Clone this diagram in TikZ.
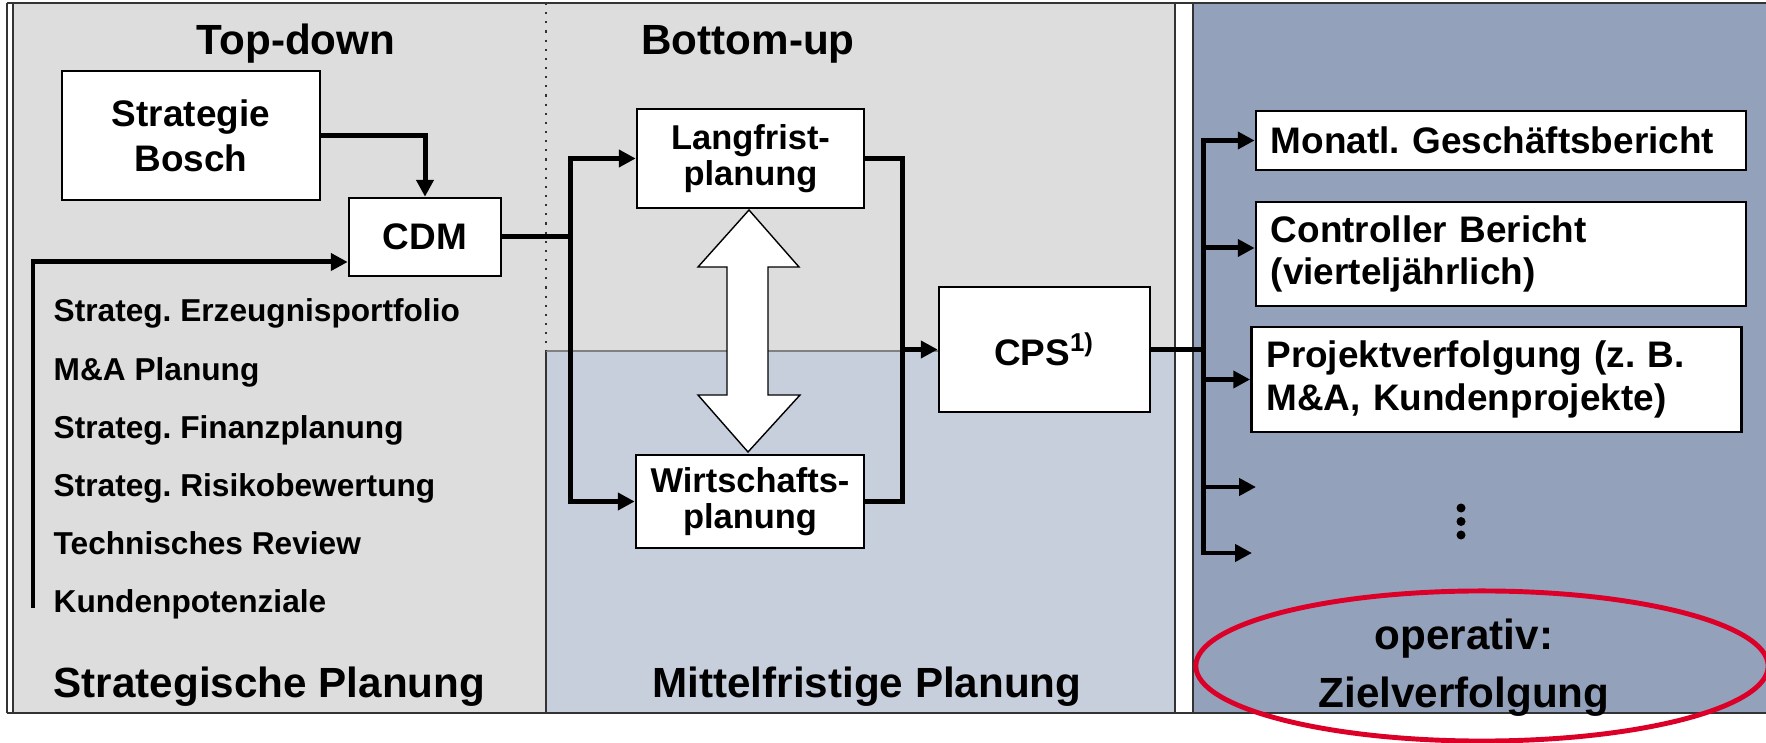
\documentclass[tikz,border=0pt]{standalone}
\usepackage{fontspec}
\setmainfont{Liberation Sans}
\frenchspacing
\usetikzlibrary{positioning}
\usetikzlibrary{calc}
\usetikzlibrary{arrows.meta}
\definecolor{grau}{RGB}{221,221,221}
\definecolor{hellblau}{RGB}{200,207,220}
\definecolor{graublau}{RGB}{147,161,187}
\definecolor{rot}{RGB}{220,0,40}
\tikzset{
  planung/.style={
    x=0.01cm, y=-0.01cm,
    box/.style={rectangle, draw=black, line width=0.7pt, fill=white, align=center,
      inner sep=0pt, font={\bfseries\fontsize{10.5}{12.8}\selectfont}},
    small box/.style={box, font={\bfseries\fontsize{9.8}{10.4}\selectfont}},
    report box/.style={box, align=left, text width=4.6cm, inner xsep=0.15cm,
      font={\bfseries\fontsize{10.5}{12}\selectfont}},
    heading/.style={inner sep=0pt, anchor=base, font={\bfseries\fontsize{12}{14.5}\selectfont}},
    list item/.style={inner sep=0pt, anchor=base west, font={\bfseries\fontsize{9}{11}\selectfont}},
    flow/.style={line width=1.42pt},
    conn/.style={flow, -{Triangle[length=4.8pt,width=4.8pt]}},
    rahmen/.style={line width=0.6pt, black!80},
    dbl arrow/.style={draw=black, fill=white, line width=0.4pt},
    goal ring/.style={draw=rot, line width=1.4pt}
  }
}
\newcommand{\punkte}[2]{
    \foreach \dy in {0,13.5,27}
        \fill (#1,#2+\dy) circle [radius=0.045cm];
}

\begin{document}
\begin{tikzpicture}[planung]
    \useasboundingbox (0,0) rectangle (1766,743);

    % Hintergrund
    \fill[grau] (13,3) rectangle (1175,713);
    \fill[hellblau] (546,351) rectangle (1175,713);
    \fill[graublau] (1193,3) rectangle (1766,713);
    \draw[rahmen] (7,3) -- (1766,3);
    \draw[rahmen] (7,713) -- (1766,713);
    \draw[rahmen] (7,3) -- (7,713);
    \draw[rahmen] (13,3) -- (13,713);
    \draw[rahmen] (1175,3) -- (1175,713);
    \draw[rahmen] (1193,3) -- (1193,713);
    \draw[rahmen] (546,351) -- (546,713);
    \draw[rahmen, black!50] (546,351) -- (1175,351);
    \draw[rahmen, dotted] (546,3) -- (546,351);

    \draw[goal ring] (1482,666) ellipse [x radius=2.86cm, y radius=0.75cm];

    % Titel
    \node[heading] (td) at (296,55) {Top-down};
    \node[heading] (bu) at (748,55) {Bottom-up};
    \node[heading, anchor=base west] (sp) at (53,697) {Strategische Planung};
    \node[heading] (mp) at (867,697) {Mittelfristige Planung};
    \node[heading, align=center] (op) at (1464,708) {operativ:\\[2.1pt]Zielverfolgung};

    % Boxen
    \node[box, minimum width=2.58cm, minimum height=1.29cm] (strat) at (191,135.5) {Strategie\\Bosch};
    \node[box, minimum width=1.52cm, minimum height=0.78cm] (cdm) at (425,237) {CDM};
    \node[small box, minimum width=2.27cm, minimum height=0.99cm] (lang) at (750.5,158.5) {Langfrist-\\planung};
    \node[small box, minimum width=2.28cm, minimum height=0.93cm] (wirt) at (750,501.5) {Wirtschafts-\\planung};
    \node[box, minimum width=2.11cm, minimum height=1.25cm] (cps) at (1044.5,349.5) {CPS\textsuperscript{1)}};
    \node[report box, minimum height=0.59cm] (mon) at (1501,140.5) {Monatl. Geschäftsbericht};
    \node[report box, minimum height=1.04cm] (ctrl) at (1501,254) {Controller Bericht\\(vierteljährlich)};
    \node[report box, minimum height=1.05cm] (proj) at (1496.5,379.5) {Projektverfolgung (z. B.\\M\&A, Kundenprojekte)};

    \foreach \txt [count=\i from 0] in {Strateg. Erzeugnisportfolio, M\&A Planung,
        Strateg. Finanzplanung, Strateg. Risikobewertung, Technisches Review, Kundenpotenziale}
        \node[list item] (item\i) at (53,{322+58.2*\i}) {\txt};

    \path[dbl arrow] (749,210) -- (799,267) -- (768,267) -- (768,395) -- (800,395)
        -- (748,452) -- (698,395) -- (727,395) -- (727,267) -- (698,267) -- cycle;

    % Verbindungen
    \coordinate (inA) at (33,608);
    \coordinate (split) at (570,237);
    \coordinate (merge) at (902,349.5);
    \coordinate (bus) at (1203,349.5);
    \coordinate (out4) at (1256,487);
    \coordinate (out5) at (1252,553);

    \draw[conn] (strat.east) -| (cdm.north);
    \draw[conn] (inA) |- ($(cdm.west)+(0,25)$);
    \draw[flow] (cdm.east) -- (split);
    \draw[conn] (split) |- (lang.west);
    \draw[conn] (split) |- (wirt.west);
    \draw[flow] (lang.east) -| (merge);
    \draw[flow] (wirt.east) -| (merge);
    \draw[conn] (merge) -- (cps.west);
    \draw[flow] (cps.east) -- (bus);
    \draw[conn] (bus) |- (mon.west);
    \draw[conn] (bus) |- ($(ctrl.west)+(0,-6)$);
    \draw[conn] (bus) |- (proj.west);
    \draw[conn] (bus) |- (out4);
    \draw[conn] (bus) |- (out5);

    \punkte{1461}{508}
\end{tikzpicture}
\end{document}
